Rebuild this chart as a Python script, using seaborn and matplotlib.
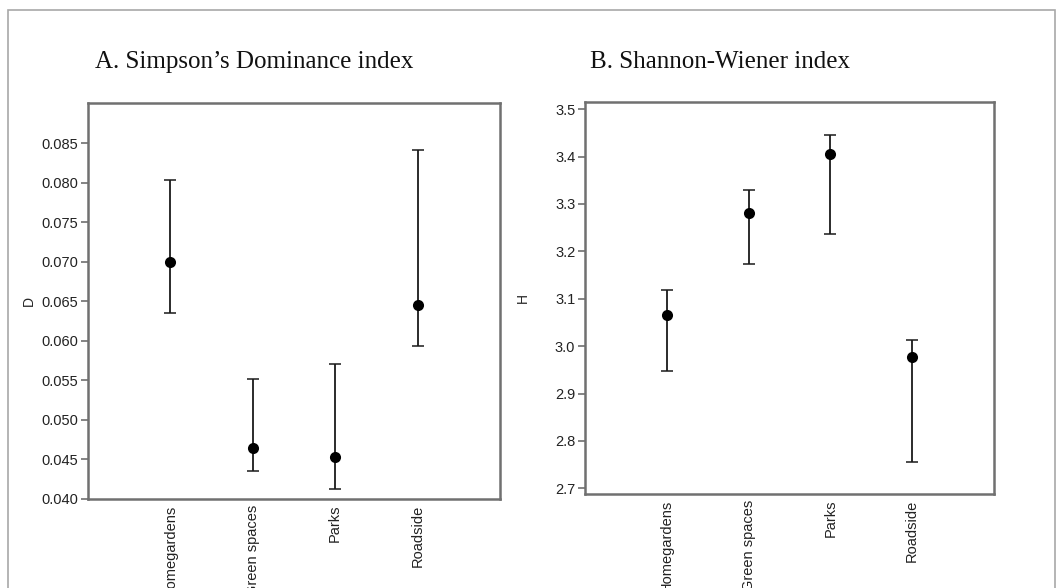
import numpy as np
import pandas as pd
import matplotlib
matplotlib.use("Agg")
import matplotlib.pyplot as plt
import matplotlib.patches as mpatches
from matplotlib.ticker import FixedLocator, FormatStrFormatter
import seaborn as sns

# Data
sites = ["Homegardens", "Green spaces", "Parks", "Roadside"]

simpson_mean = [0.0700, 0.0465, 0.0453, 0.0645]
simpson_low = [0.0635, 0.0435, 0.0413, 0.0594]
simpson_high = [0.0804, 0.0552, 0.0571, 0.0841]
simpson_ticks = [0.040, 0.045, 0.050, 0.055, 0.060, 0.065, 0.070, 0.075, 0.080, 0.085]

shannon_mean = [3.066, 3.280, 3.405, 2.976]
shannon_low = [2.948, 3.174, 3.236, 2.755]
shannon_high = [3.118, 3.329, 3.445, 3.012]
shannon_ticks = [2.7, 2.8, 2.9, 3.0, 3.1, 3.2, 3.3, 3.4, 3.5]

sns.set_theme(style="white")
plt.rcParams["font.family"] = ["Liberation Sans", "DejaVu Sans"]

fig = plt.figure(figsize=(10.64, 5.88), dpi=100)

# outer grey frame
frame = mpatches.Rectangle((8 / 1064, -0.05), (1055 - 8) / 1064, 1 - 10 / 588 + 0.05,
                           transform=fig.transFigure, fill=False,
                           edgecolor="#a8a8a8", linewidth=1.2)
fig.add_artist(frame)

ax1 = fig.add_axes([88 / 1064, 1 - 499 / 588, 412 / 1064, 396 / 588])
ax2 = fig.add_axes([585 / 1064, 1 - 494 / 588, 409 / 1064, 392 / 588])


def draw_panel(ax, mean, low, high, ylim, ticks, fmt, ylabel, pad):
    df = pd.DataFrame({"site": sites, "value": mean})
    x = np.arange(len(sites))
    yerr = [np.array(mean) - np.array(low), np.array(high) - np.array(mean)]
    ax.errorbar(x, mean, yerr=yerr, fmt="none", ecolor="#1a1a1a",
                elinewidth=1.3, capsize=4, capthick=1.1, zorder=2)
    sns.stripplot(data=df, x="site", y="value", order=sites, jitter=False,
                  color="black", size=8, linewidth=0, ax=ax, zorder=3)
    ax.set_xlim(-1, 4)
    ax.set_ylim(*ylim)
    ax.yaxis.set_major_locator(FixedLocator(ticks))
    ax.yaxis.set_major_formatter(FormatStrFormatter(fmt))
    ax.set_xlabel("")
    ax.set_ylabel(ylabel, fontsize=10, labelpad=pad)
    ax.tick_params(axis="y", left=True, length=5, width=1.2, color="#707070",
                   labelsize=10.5, labelcolor="#222222", pad=2)
    ax.tick_params(axis="x", bottom=False, length=0, labelsize=10.5,
                   labelcolor="#222222", pad=4)
    for lab in ax.get_xticklabels():
        lab.set_rotation(90)
        lab.set_va("top")
        lab.set_ha("center")
    for sp in ax.spines.values():
        sp.set_color("#707070")
        sp.set_linewidth(1.8)


draw_panel(ax1, simpson_mean, simpson_low, simpson_high, (0.040, 0.0901),
           simpson_ticks, "%.3f", "D", 4)
draw_panel(ax2, shannon_mean, shannon_low, shannon_high, (2.688, 3.515),
           shannon_ticks, "%.1f", "H", 18)

title_font = dict(family=["Liberation Serif", "DejaVu Serif"], fontsize=18,
                  color="#111111")
fig.text(95 / 1064, 1 - 68 / 588, "A. Simpson\u2019s Dominance index", **title_font)
fig.text(590 / 1064, 1 - 68 / 588, "B. Shannon-Wiener index", **title_font)

fig.savefig("out.png", dpi=100)
